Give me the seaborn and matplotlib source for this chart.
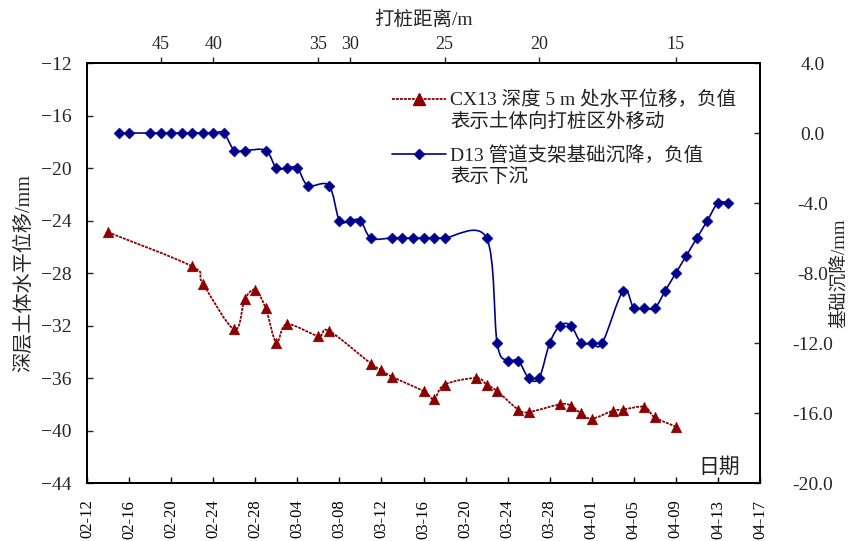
import numpy as np
import pandas as pd
import matplotlib
matplotlib.use("Agg")
import matplotlib.pyplot as plt
import matplotlib.dates as mdates
from matplotlib.path import Path
from matplotlib.patches import PathPatch
from matplotlib.lines import Line2D
from matplotlib.ticker import FixedLocator, FormatStrFormatter
import seaborn as sns

YEAR = "2014"

# CX13: horizontal displacement at 5 m depth (left axis, mm)
cx13_dates = ["02-14", "02-22", "02-23", "02-26", "02-27", "02-28", "03-01",
              "03-02", "03-03", "03-06", "03-07", "03-11", "03-12", "03-13",
              "03-16", "03-17", "03-18", "03-21", "03-22", "03-23", "03-25",
              "03-26", "03-29", "03-30", "03-31", "04-01", "04-03", "04-04",
              "04-06", "04-07", "04-09"]
cx13_values = [-24.9, -27.5, -28.8, -32.3, -30.0, -29.3, -30.7,
               -33.3, -31.9, -32.8, -32.4, -34.9, -35.4, -35.9,
               -37.0, -37.6, -36.5, -36.0, -36.5, -37.0, -38.4,
               -38.6, -38.0, -38.1, -38.7, -39.1, -38.5, -38.4,
               -38.2, -39.0, -39.7]

# D13: pipe support foundation settlement (right axis, mm)
d13_dates = ["02-15", "02-16", "02-18", "02-19", "02-20", "02-21", "02-22",
             "02-23", "02-24", "02-25", "02-26", "02-27", "03-01", "03-02",
             "03-03", "03-04", "03-05", "03-07", "03-08", "03-09", "03-10",
             "03-11", "03-13", "03-14", "03-15", "03-16", "03-17", "03-18",
             "03-22", "03-23", "03-24", "03-25", "03-26", "03-27", "03-28",
             "03-29", "03-30", "03-31", "04-01", "04-02", "04-04", "04-05",
             "04-06", "04-07", "04-08", "04-09", "04-10", "04-11", "04-12",
             "04-13", "04-14"]
d13_values = [0.0, 0.0, 0.0, 0.0, 0.0, 0.0, 0.0,
              0.0, 0.0, 0.0, -1.0, -1.0, -1.0, -2.0,
              -2.0, -2.0, -3.0, -3.0, -5.0, -5.0, -5.0,
              -6.0, -6.0, -6.0, -6.0, -6.0, -6.0, -6.0,
              -6.0, -12.0, -13.0, -13.0, -14.0, -14.0, -12.0,
              -11.0, -11.0, -12.0, -12.0, -12.0, -9.0, -10.0,
              -10.0, -10.0, -9.0, -8.0, -7.0, -6.0, -5.0,
              -4.0, -4.0]

# Pile-driving distance (top axis)
pile_dates = ["02-19", "02-24", "03-06", "03-09", "03-18", "03-27", "04-09"]
pile_dist = [45, 40, 35, 30, 25, 20, 15]

left_ticks = [-44, -40, -36, -32, -28, -24, -20, -16, -12]
right_ticks = [-20.0, -16.0, -12.0, -8.0, -4.0, 0.0, 4.0]
x_start, x_end = "02-12", "04-17"

label_left = "深层土体水平位移/mm"
label_right = "基础沉降/mm"
label_top = "打桩距离/m"
label_date = "日期"
legend_cx13 = "CX13 深度 5 m 处水平位移，负值\n表示土体向打桩区外移动"
legend_d13 = "D13 管道支架基础沉降，负值\n表示下沉"

RED = "#8B0000"
BLUE = "#00008B"
RED_DASH = (0, (1.6, 0.6))


def to_dt(md):
    return pd.to_datetime([f"{YEAR}-{d}" for d in md])


def smooth_path(xs, ys):
    """Cubic Bezier path through every point (spreadsheet-style smoothed line)."""
    pts = np.column_stack([xs, ys]).astype(float)
    n = len(pts)
    verts = [pts[0]]
    codes = [Path.MOVETO]
    for i in range(n - 1):
        p0 = pts[i - 1] if i > 0 else pts[i]
        p1 = pts[i]
        p2 = pts[i + 1]
        p3 = pts[i + 2] if i + 2 < n else pts[i + 1]
        verts += [p1 + (p2 - p0) / 6.0, p2 - (p3 - p1) / 6.0, p2]
        codes += [Path.CURVE4] * 3
    return Path(verts, codes)


sns.set_theme(style="white")
plt.rcParams["font.family"] = ["Liberation Serif", "Noto Sans CJK SC"]
plt.rcParams["axes.unicode_minus"] = True

cx = pd.DataFrame({"date": to_dt(cx13_dates), "value": cx13_values})
d13 = pd.DataFrame({"date": to_dt(d13_dates), "value": d13_values})

fig = plt.figure(figsize=(8.5, 5.41), dpi=100)
fig.subplots_adjust(left=0.1024, right=0.8941, top=0.8835, bottom=0.1072)
ax = fig.add_subplot(111)
ax2 = ax.twinx()

# CX13 series on the left axis
ax.add_patch(PathPatch(smooth_path(mdates.date2num(cx["date"]), cx["value"]),
                       fill=False, edgecolor=RED, lw=1.3,
                       linestyle=RED_DASH, zorder=2))
sns.scatterplot(data=cx, x="date", y="value", ax=ax, marker="^", s=60,
                color=RED, edgecolor=RED, linewidth=0.3, zorder=3, legend=False)

# D13 series on the right axis
ax2.add_patch(PathPatch(smooth_path(mdates.date2num(d13["date"]), d13["value"]),
                        fill=False, edgecolor=BLUE, lw=1.2, zorder=2))
sns.scatterplot(data=d13, x="date", y="value", ax=ax2, marker="D", s=32,
                color=BLUE, edgecolor=BLUE, linewidth=0.3, zorder=3, legend=False)

xlim = to_dt([x_start, x_end])
ax.set_xlim(xlim[0], xlim[1])
ax.set_ylim(left_ticks[0], left_ticks[-1])
ax2.set_ylim(right_ticks[0], right_ticks[-1])

ax.set_xticks(pd.date_range(xlim[0], xlim[1], freq="4D"))
ax.xaxis.set_major_formatter(mdates.DateFormatter("%m-%d"))
ax.yaxis.set_major_locator(FixedLocator(left_ticks))
ax2.yaxis.set_major_locator(FixedLocator(right_ticks))
ax2.yaxis.set_major_formatter(FormatStrFormatter("%.1f"))

ax.tick_params(axis="x", direction="in", length=4, width=1, pad=12,
               labelsize=12, rotation=90, colors="black", bottom=True)
ax.tick_params(axis="y", direction="in", length=4, width=1, pad=11,
               labelsize=14, left=True)
ax2.tick_params(axis="y", direction="in", length=4, width=1, pad=38,
                labelsize=14, right=True)
for lbl in ax2.get_yticklabels():
    lbl.set_horizontalalignment("center")

ax.set_xlabel("")
ax.set_ylabel(label_left, fontsize=14.5)
ax.yaxis.set_label_coords(-0.079, 0.5)
ax2.set_ylabel(label_right, fontsize=13.5)
ax2.yaxis.set_label_coords(1.105, 0.5)

# Top axis: pile-driving distance
top = ax.secondary_xaxis("top")
top.set_xticks(to_dt(pile_dates), [str(v) for v in pile_dist])
top.tick_params(axis="x", direction="out", length=4, width=1, pad=3,
                labelsize=13)
top.set_xlabel(label_top, fontsize=14, labelpad=8)

for a in (ax, ax2):
    for sp in a.spines.values():
        sp.set_visible(True)
        sp.set_color("black")
        sp.set_linewidth(1.3)
top.spines["top"].set_linewidth(1.3)

ax.text(0.94, 0.036, label_date, transform=ax.transAxes, fontsize=15,
        ha="center", va="center", color="#222222")

handles = [
    Line2D([], [], color=RED, lw=1.3, linestyle=RED_DASH, marker="^",
           markersize=8, markerfacecolor=RED, markeredgecolor=RED),
    Line2D([], [], color=BLUE, lw=1.2, marker="D", markersize=5.5,
           markerfacecolor=BLUE, markeredgecolor=BLUE),
]
leg = ax2.legend(handles, [legend_cx13, legend_d13], loc="upper left",
                 bbox_to_anchor=(0.453, 0.935), frameon=False, fontsize=14,
                 handlelength=2.8, handletextpad=0.2, handleheight=1.3,
                 labelspacing=0.75, borderpad=0, borderaxespad=0, numpoints=1)
for col in leg._legend_handle_box.get_children():
    for row in col.get_children():
        row.align = "top"
for t in leg.get_texts():
    t.set_linespacing(1.25)
    t.set_color("#222222")

fig.savefig("out.png", dpi=100)
